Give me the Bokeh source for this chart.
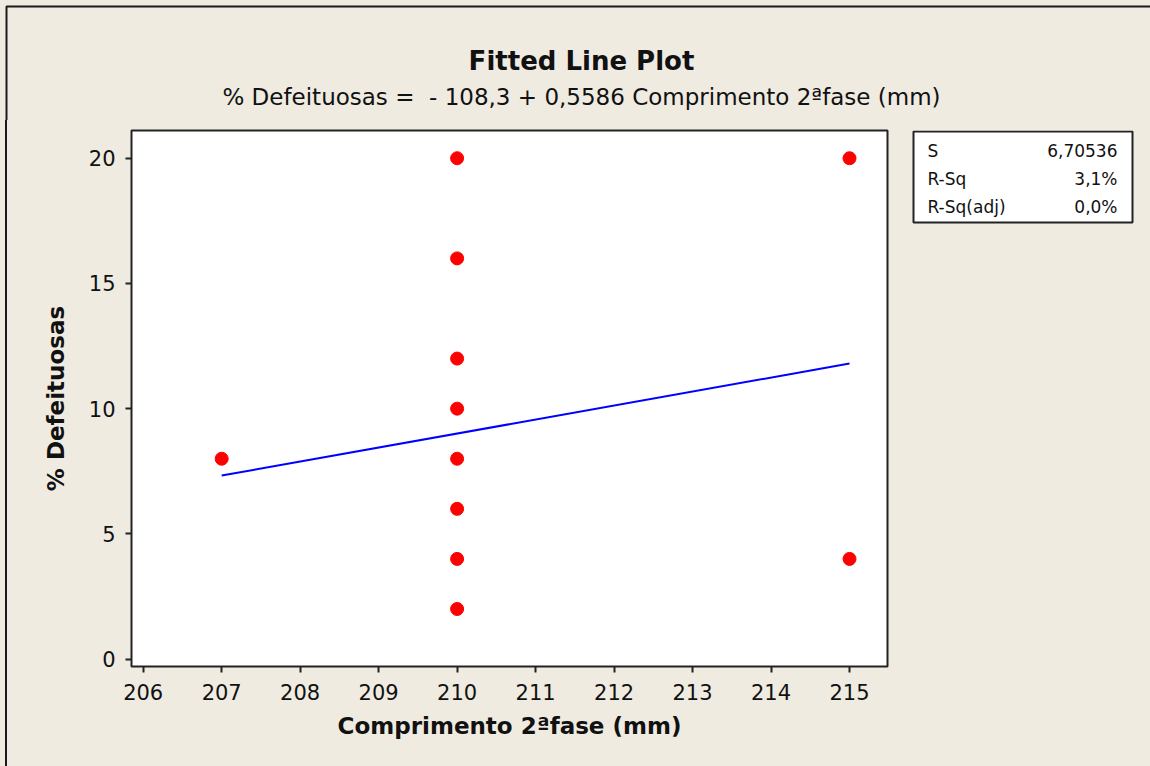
from bokeh.plotting import figure
from bokeh.layouts import column, row
from bokeh.models import FixedTicker, Range1d, Div
from bokeh.core.properties import value
from bokeh.embed import file_html
from bokeh.resources import INLINE

# Observations
comprimento = [207, 210, 210, 210, 210, 210, 210, 210, 210, 215, 215]
defeituosas = [8, 20, 16, 12, 10, 8, 6, 4, 2, 20, 4]

# Fitted regression: % Defeituosas = intercept + slope * Comprimento
intercept = -108.3
slope = 0.5586
fit_x = [207, 215]

# Model summary
stat_names = ["S", "R-Sq", "R-Sq(adj)"]
stat_values = ["6,70536", "3,1%", "0,0%"]

x_ticks = [206, 207, 208, 209, 210, 211, 212, 213, 214, 215]
y_ticks = [0, 5, 10, 15, 20]

title_text = "Fitted Line Plot"
equation_text = "% Defeituosas = \u00a0- 108,3 + 0,5586 Comprimento 2ªfase (mm)"

BG = "#EFEBE1"
INK = "#111111"
EDGE = "#1A1A1A"
FONT = "DejaVu Sans"

W, H = 1150, 766
HEAD_H = 120          # height of the heading strip
STRIP_W = 8           # narrow strip carrying the window's left edge
SPLIT = 900           # where the plot ends and the summary column starts
BODY_H = H - HEAD_H
FL, FR, FT, FB = 131, 887, 130, 666  # plot frame edges on the page


# heading: title, equation and the window's top/left edge
head = figure(width=W, height=HEAD_H, output_backend="svg",
              toolbar_location=None, x_axis_location=None,
              y_axis_location=None, x_range=Range1d(0, W),
              y_range=Range1d(HEAD_H, 0), min_border=0)
head.outline_line_color = None
head.background_fill_color = BG
head.border_fill_color = BG
head.grid.visible = False
head.line([6, 6, W], [HEAD_H, 6, 6], line_color=EDGE, line_width=2)
head.text([581], [60], text=[title_text], text_align="center",
          text_baseline="middle", text_font=value(FONT),
          text_font_size=value("26px"), text_font_style="bold",
          text_color=INK)
head.text([581], [96], text=[equation_text], text_align="center",
          text_baseline="middle", text_font=value(FONT),
          text_font_size=value("23px"), text_color=INK)

# left edge continuation
strip = Div(text="", width=STRIP_W, height=BODY_H, margin=0,
            styles={"background": f"linear-gradient(to right, {BG} 5px, {EDGE} 5px, "
                                  f"{EDGE} 7px, {BG} 7px)"})

# main fitted line plot
p = figure(width=SPLIT - STRIP_W, height=BODY_H, output_backend="svg",
           toolbar_location=None,
           x_range=Range1d(205.851, 215.484), y_range=Range1d(-0.296, 21.107),
           min_border_left=FL - STRIP_W, min_border_right=SPLIT - FR,
           min_border_top=FT - HEAD_H, min_border_bottom=H - FB)
p.background_fill_color = "white"
p.border_fill_color = BG
p.outline_line_color = "#222222"
p.outline_line_width = 2
p.grid.visible = False

for ax in (p.xaxis[0], p.yaxis[0]):
    ax.axis_line_color = None
    ax.major_tick_line_color = "#222222"
    ax.major_tick_line_width = 2
    ax.major_tick_out = 6
    ax.major_tick_in = 0
    ax.minor_tick_line_color = None
    ax.major_label_text_font = FONT
    ax.major_label_text_font_size = "21px"
    ax.major_label_text_color = INK
    ax.axis_label_text_font = FONT
    ax.axis_label_text_font_size = "23px"
    ax.axis_label_text_font_style = "bold"
    ax.axis_label_text_color = INK

p.xaxis.ticker = FixedTicker(ticks=x_ticks)
p.yaxis.ticker = FixedTicker(ticks=y_ticks)
p.xaxis.axis_label = "Comprimento 2ªfase (mm)"
p.yaxis.axis_label = "% Defeituosas"
p.xaxis.major_label_standoff = 11
p.yaxis.major_label_standoff = 10
p.xaxis.axis_label_standoff = 10
p.yaxis.axis_label_standoff = 17

fit_y = [intercept + slope * v for v in fit_x]
p.line(fit_x, fit_y, line_color="#0000FF", line_width=2)
p.scatter(comprimento, defeituosas, size=13, fill_color="#FF0000",
          line_color="#FF0000")

# summary column: same vertical frame as the plot, page coordinates inside
stats = figure(width=W - SPLIT, height=BODY_H, output_backend="svg",
               toolbar_location=None, x_axis_location=None,
               y_axis_location=None,
               x_range=Range1d(SPLIT, W), y_range=Range1d(FB, FT),
               min_border_left=0, min_border_right=0,
               min_border_top=FT - HEAD_H, min_border_bottom=H - FB)
stats.background_fill_color = BG
stats.border_fill_color = BG
stats.outline_line_color = None
stats.grid.visible = False

stats.quad(left=[913], right=[1132], top=[131], bottom=[222],
           fill_color="white", line_color="#222222", line_width=2)
row_y = [150, 178, 206]
stats.text([927] * len(stat_names), row_y, text=stat_names,
           text_align="left", text_baseline="middle", text_font=value(FONT),
           text_font_size=value("17px"), text_color=INK)
stats.text([1117] * len(stat_values), row_y, text=stat_values,
           text_align="right", text_baseline="middle", text_font=value(FONT),
           text_font_size=value("17px"), text_color=INK)

layout = column(head, row(strip, p, stats, styles={"background-color": BG}),
                styles={"background-color": BG})
open("out.html", "w").write(file_html(layout, INLINE))
